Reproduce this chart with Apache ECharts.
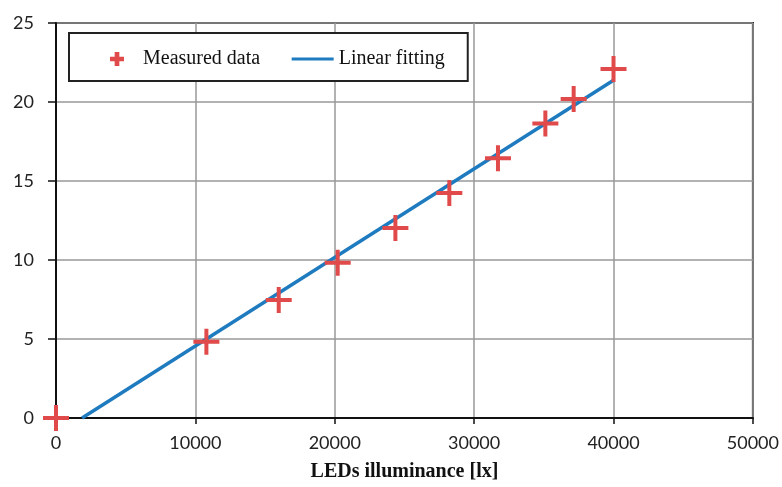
<!DOCTYPE html>
<html>
<head>
<meta charset="utf-8">
<script src="https://cdn.jsdelivr.net/npm/echarts@6/dist/echarts.min.js"></script>
<style>
  html, body { margin: 0; padding: 0; background: #fff; }
  #main { width: 782px; height: 487px; }
</style>
</head>
<body>
<div id="main"></div>
<script>
// measured points
var illuminance = [0, 10790, 15980, 20210, 24350, 28220, 31710, 35110, 37140, 40000]
var voltage = [0, 4.82, 7.47, 9.82, 12.02, 14.24, 16.44, 18.64, 20.19, 22.09]
// fitted line end points
var fitX = [1870, 40000]
var fitY = [0, 21.38]

var plusPath = 'path://M11,0H15V11H26V15H15V26H11V15H0V11H11Z'
var plusIcon = 'path://M5,0H10V5H15V10H10V15H5V10H0V5H5Z'
var red = '#e04a4a'
var blue = '#1f7bbf'

var measured = illuminance.map(function (x, i) { return [x, voltage[i]] })
var fitted = fitX.map(function (x, i) { return [x, fitY[i]] })

var myChart = echarts.init(document.getElementById('main'))

var option = {
  animation: false,
  grid: {
    left: 56, right: 29, top: 23, bottom: 66,
    show: true,
    borderColor: '#111',
    borderWidth: 2
  },
  legend: {
    left: 69,
    top: 33,
    padding: [16, 23, 12, 41],
    itemWidth: 42,
    itemHeight: 14,
    itemGap: 30,
    itemTextGap: 4,
    backgroundColor: '#fff',
    borderColor: '#222',
    borderWidth: 2,
    textStyle: { fontFamily: 'Liberation Serif', fontSize: 20, color: '#111' },
    data: [
      { name: 'Measured data', icon: plusIcon },
      { name: 'Linear fitting', itemStyle: { opacity: 0 }, lineStyle: { width: 3, color: blue } }
    ]
  },
  xAxis: {
    type: 'value',
    min: 0,
    max: 50000,
    interval: 10000,
    name: 'LEDs illuminance [lx]',
    nameLocation: 'middle',
    nameGap: 44,
    nameTextStyle: { fontFamily: 'Liberation Serif', fontWeight: 'bold', fontSize: 20, color: '#111' },
    axisLine: { lineStyle: { color: '#111', width: 2 } },
    axisTick: { show: true, length: 6, lineStyle: { color: '#111', width: 1.5 } },
    axisLabel: {
      margin: 16, fontFamily: 'Lato', fontSize: 18, color: '#222',
      formatter: function (v) { return String(v) }
    },
    splitLine: { show: true, lineStyle: { color: '#999', width: 1.5 } }
  },
  yAxis: {
    type: 'value',
    min: 0,
    max: 25,
    interval: 5,
    axisLine: { show: true, lineStyle: { color: '#111', width: 2 } },
    axisTick: { show: true, length: 8, lineStyle: { color: '#111', width: 1.5 } },
    axisLabel: { margin: 22, fontFamily: 'Lato', fontSize: 18, color: '#222' },
    splitLine: { show: true, lineStyle: { color: '#999', width: 1.5 } }
  },
  series: [
    {
      name: 'Linear fitting',
      type: 'line',
      data: fitted,
      symbol: 'none',
      lineStyle: { color: blue, width: 3.5 },
      itemStyle: { color: blue },
      z: 2
    },
    {
      name: 'Measured data',
      type: 'scatter',
      data: measured,
      symbol: plusPath,
      symbolSize: 26,
      symbolKeepAspect: true,
      itemStyle: { color: red, opacity: 1 },
      z: 3
    }
  ]
}

myChart.setOption(option)
</script>
</body>
</html>
